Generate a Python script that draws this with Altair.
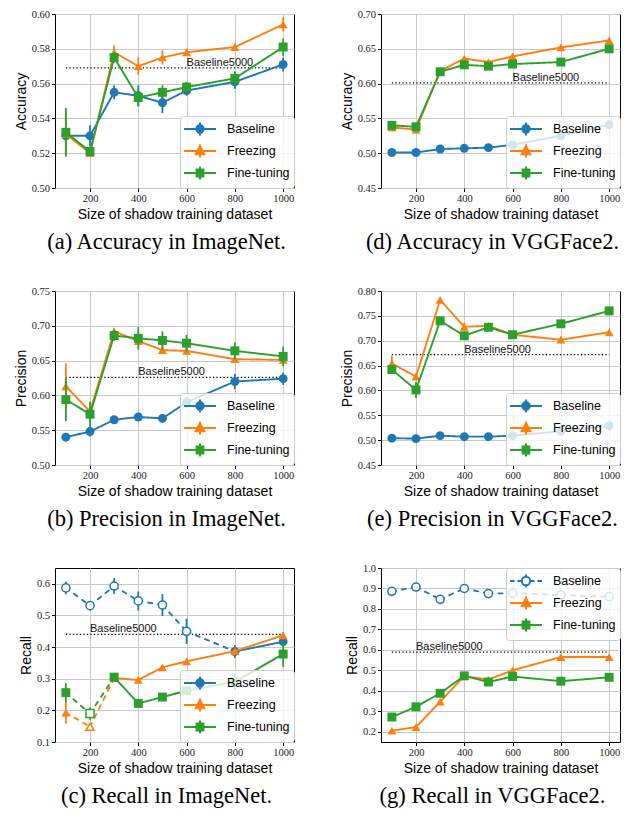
import altair as alt
import pandas as pd

SIZES = [100, 200, 300, 400, 500, 600, 800, 1000]
SERIES = ["Baseline", "Freezing", "Fine-tuning"]

# (a) Accuracy in ImageNet
A_BASE = [0.530, 0.530, 0.555, 0.553, 0.549, 0.556, 0.561, 0.571]
A_BASE_ERR = [0.004, 0.006, 0.004, 0.006, 0.006, 0.003, 0.004, 0.004]
A_FRZ = [0.531, 0.520, 0.578, 0.570, 0.575, 0.578, 0.581, 0.594]
A_FRZ_ERR = [0.012, 0.002, 0.004, 0.005, 0.004, 0.002, 0.002, 0.004]
A_FT = [0.532, 0.521, 0.575, 0.552, 0.555, 0.558, 0.563, 0.581]
A_FT_ERR = [0.014, 0.002, 0.003, 0.005, 0.004, 0.003, 0.004, 0.005]
A_REF = 0.569

# (d) Accuracy in VGGFace2
D_BASE = [0.501, 0.501, 0.506, 0.507, 0.508, 0.512, 0.525, 0.541]
D_BASE_ERR = [0.002, 0.002, 0.002, 0.002, 0.002, 0.002, 0.002, 0.002]
D_FRZ = [0.537, 0.534, 0.618, 0.636, 0.631, 0.639, 0.652, 0.662]
D_FRZ_ERR = [0.003, 0.003, 0.003, 0.003, 0.003, 0.003, 0.002, 0.003]
D_FT = [0.540, 0.538, 0.617, 0.627, 0.625, 0.628, 0.631, 0.650]
D_FT_ERR = [0.003, 0.003, 0.003, 0.003, 0.003, 0.003, 0.002, 0.003]
D_REF = 0.601

# (b) Precision in ImageNet
B_BASE = [0.540, 0.548, 0.565, 0.569, 0.567, 0.590, 0.620, 0.624]
B_BASE_ERR = [0.004, 0.007, 0.003, 0.003, 0.006, 0.008, 0.011, 0.009]
B_FRZ = [0.613, 0.577, 0.692, 0.678, 0.665, 0.664, 0.652, 0.651]
B_FRZ_ERR = [0.033, 0.005, 0.005, 0.005, 0.005, 0.005, 0.004, 0.004]
B_FT = [0.594, 0.573, 0.686, 0.682, 0.679, 0.675, 0.664, 0.656]
B_FT_ERR = [0.031, 0.018, 0.008, 0.016, 0.013, 0.012, 0.012, 0.014]
B_REF = 0.626

# (e) Precision in VGGFace2
E_BASE = [0.504, 0.503, 0.509, 0.507, 0.507, 0.509, 0.518, 0.529]
E_BASE_ERR = [0.002, 0.002, 0.002, 0.002, 0.002, 0.002, 0.002, 0.002]
E_FRZ = [0.654, 0.628, 0.782, 0.728, 0.730, 0.712, 0.702, 0.717]
E_FRZ_ERR = [0.016, 0.006, 0.005, 0.008, 0.004, 0.004, 0.004, 0.004]
E_FT = [0.642, 0.601, 0.740, 0.710, 0.727, 0.712, 0.734, 0.760]
E_FT_ERR = [0.008, 0.016, 0.005, 0.006, 0.004, 0.004, 0.004, 0.004]
E_REF = 0.672

# (c) Recall in ImageNet
C_BASE = [0.587, 0.531, 0.593, 0.546, 0.533, 0.450, 0.386, 0.417]
C_BASE_ERR = [0.020, 0.015, 0.025, 0.030, 0.035, 0.040, 0.020, 0.015]
C_BASE_OPEN = [True, True, True, True, True, True, False, False]
C_FRZ = [0.193, 0.148, 0.302, 0.296, 0.336, 0.355, 0.387, 0.437]
C_FRZ_ERR = [0.035, 0.010, 0.008, 0.006, 0.005, 0.005, 0.006, 0.010]
C_FRZ_OPEN = [False, True, False, False, False, False, False, False]
C_FT = [0.256, 0.190, 0.305, 0.222, 0.242, 0.262, 0.290, 0.378]
C_FT_ERR = [0.030, 0.020, 0.010, 0.010, 0.010, 0.010, 0.025, 0.040]
C_FT_OPEN = [False, True, False, False, False, False, False, False]
C_REF = 0.44

# (g) Recall in VGGFace2
F_BASE = [0.886, 0.907, 0.847, 0.900, 0.875, 0.877, 0.868, 0.860]
F_BASE_ERR = [0.005, 0.005, 0.005, 0.005, 0.005, 0.005, 0.005, 0.005]
F_BASE_OPEN = [True, True, True, True, True, True, True, True]
F_FRZ = [0.205, 0.223, 0.347, 0.472, 0.455, 0.500, 0.565, 0.565]
F_FRZ_ERR = [0.005, 0.005, 0.008, 0.010, 0.008, 0.008, 0.006, 0.006]
F_FT = [0.272, 0.322, 0.388, 0.473, 0.443, 0.470, 0.447, 0.466]
F_FT_ERR = [0.005, 0.005, 0.008, 0.010, 0.008, 0.008, 0.006, 0.006]
F_REF = 0.589

NO_OPEN = [False] * 8

PANELS = [
    dict(caption="(a) Accuracy in ImageNet.", ytitle="Accuracy", ydom=[0.50, 0.60],
         yticks=[0.50, 0.52, 0.54, 0.56, 0.58, 0.60], fmt=".2f",
         vals=[A_BASE, A_FRZ, A_FT], errs=[A_BASE_ERR, A_FRZ_ERR, A_FT_ERR],
         opens=[NO_OPEN, NO_OPEN, NO_OPEN], ref=A_REF, refx=600, legend="bottom-right"),
    dict(caption="(d) Accuracy in VGGFace2.", ytitle="Accuracy", ydom=[0.45, 0.70],
         yticks=[0.45, 0.50, 0.55, 0.60, 0.65, 0.70], fmt=".2f",
         vals=[D_BASE, D_FRZ, D_FT], errs=[D_BASE_ERR, D_FRZ_ERR, D_FT_ERR],
         opens=[NO_OPEN, NO_OPEN, NO_OPEN], ref=D_REF, refx=600, legend="bottom-right"),
    dict(caption="(b) Precision in ImageNet.", ytitle="Precision", ydom=[0.50, 0.75],
         yticks=[0.50, 0.55, 0.60, 0.65, 0.70, 0.75], fmt=".2f",
         vals=[B_BASE, B_FRZ, B_FT], errs=[B_BASE_ERR, B_FRZ_ERR, B_FT_ERR],
         opens=[NO_OPEN, NO_OPEN, NO_OPEN], ref=B_REF, refx=400, legend="bottom-right"),
    dict(caption="(e) Precision in VGGFace2.", ytitle="Precision", ydom=[0.45, 0.80],
         yticks=[0.45, 0.50, 0.55, 0.60, 0.65, 0.70, 0.75, 0.80], fmt=".2f",
         vals=[E_BASE, E_FRZ, E_FT], errs=[E_BASE_ERR, E_FRZ_ERR, E_FT_ERR],
         opens=[NO_OPEN, NO_OPEN, NO_OPEN], ref=E_REF, refx=400, legend="bottom-right"),
    dict(caption="(c) Recall in ImageNet.", ytitle="Recall", ydom=[0.10, 0.65],
         yticks=[0.1, 0.2, 0.3, 0.4, 0.5, 0.6], fmt=".1f",
         vals=[C_BASE, C_FRZ, C_FT], errs=[C_BASE_ERR, C_FRZ_ERR, C_FT_ERR],
         opens=[C_BASE_OPEN, C_FRZ_OPEN, C_FT_OPEN], ref=C_REF, refx=200, legend="bottom-right"),
    dict(caption="(g) Recall in VGGFace2.", ytitle="Recall", ydom=[0.15, 1.0],
         yticks=[0.2, 0.3, 0.4, 0.5, 0.6, 0.7, 0.8, 0.9, 1.0], fmt=".1f",
         vals=[F_BASE, F_FRZ, F_FT], errs=[F_BASE_ERR, F_FRZ_ERR, F_FT_ERR],
         opens=[F_BASE_OPEN, NO_OPEN, NO_OPEN], ref=F_REF, refx=200, legend="top-right"),
]

COLORS = ["#1f77b4", "#ff7f0e", "#2ca02c"]
SHAPES = ["circle", "triangle-up", "square"]
W, H = 239, 174
SANS = "Liberation Sans"
SERIF = "Liberation Serif"

# legend symbol geometry (pixels, relative to the symbol centre)
LEG_SIZE = 256
UNIT = (LEG_SIZE ** 0.5) / 2.0


def _u(v):
    return f"{v / UNIT:.3f}"


def seg(x1, y1, x2, y2):
    return f"M{_u(x1)},{_u(y1)}L{_u(x2)},{_u(y2)}"


def legend_path(kind, dashed):
    cx = 7.0
    parts = []
    if dashed:
        r = 4.2
        for a, b in [(-9.0, -4.5), (-1.5, cx - r - 0.3), (cx + r + 0.3, 15.5), (18.5, 23.0)]:
            parts.append(seg(a, 0, b, 0))
        parts.append(seg(cx, -6.5, cx, -r - 0.3))
        parts.append(seg(cx, r + 0.3, cx, 6.5))
    else:
        r = 3.7
        parts.append(seg(-9.0, 0, 23.0, 0))
        parts.append(seg(cx, -6.5, cx, 6.5))
    if kind == "circle":
        parts.append(f"M{_u(cx - r)},0A{_u(r)},{_u(r)} 0 1,0 {_u(cx + r)},0"
                     f"A{_u(r)},{_u(r)} 0 1,0 {_u(cx - r)},0Z")
    elif kind == "triangle-up":
        parts.append(f"M{_u(cx)},{_u(-4.8)}L{_u(cx + 4.3)},{_u(3.3)}L{_u(cx - 4.3)},{_u(3.3)}Z")
    else:
        s = 3.4
        parts.append(f"M{_u(cx - s)},{_u(-s)}L{_u(cx + s)},{_u(-s)}L{_u(cx + s)},{_u(s)}L{_u(cx - s)},{_u(s)}Z")
    return "".join(parts)


def make_panel(p):
    rows, segs = [], []
    for si, name in enumerate(SERIES):
        v, e, o = p["vals"][si], p["errs"][si], p["opens"][si]
        for i, x in enumerate(SIZES):
            rows.append(dict(series=name, x=x, y=v[i], lo=v[i] - e[i], hi=v[i] + e[i],
                             open=bool(o[i])))
        for i in range(len(SIZES) - 1):
            style = "dashed" if (o[i] or o[i + 1]) else "solid"
            sid = f"{name}-{i}"
            for j in (i, i + 1):
                segs.append(dict(series=name, seg=sid, x=SIZES[j], y=v[j], style=style))
    pts = pd.DataFrame(rows)
    lines = pd.DataFrame(segs)
    refdf = pd.DataFrame([dict(x=SIZES[0], x2=SIZES[-1], y=p["ref"], tx=p["refx"],
                               label="Baseline5000")])

    xscale = alt.Scale(domain=[55, 1045], nice=False, zero=False)
    yscale = alt.Scale(domain=p["ydom"], nice=False, zero=False)
    xaxis = alt.Axis(title="Size of shadow training dataset", values=[200, 400, 600, 800, 1000],
                     format="d")
    yaxis = alt.Axis(title=p["ytitle"], values=p["yticks"], format=p["fmt"])

    def X(f="x"):
        return alt.X(f"{f}:Q", scale=xscale, axis=xaxis)

    def Y(f="y"):
        return alt.Y(f"{f}:Q", scale=yscale, axis=yaxis)

    layers = []
    layers.append(alt.Chart(refdf).mark_rule(color="black", strokeWidth=1.2, strokeDash=[1.3, 2.2])
                  .encode(x=X(), x2="x2:Q", y=Y()))
    layers.append(alt.Chart(refdf).mark_text(align="left", baseline="alphabetic", dy=-2,
                                             font=SANS, fontSize=11, color="#111")
                  .encode(x=X("tx"), y=Y(), text="label:N"))
    dash = alt.StrokeDash("style:N", scale=alt.Scale(domain=["solid", "dashed"],
                                                       range=[[1, 0], [4.2, 5.8]]), legend=None)
    for si, name in enumerate(SERIES):
        c = COLORS[si]
        ld = lines[lines.series == name]
        pdd = pts[pts.series == name]
        layers.append(alt.Chart(ld).mark_line(color=c, strokeWidth=1.9, strokeCap="round",
                                              strokeJoin="round")
                      .encode(x=X(), y=Y(), detail="seg:N", strokeDash=dash))
        layers.append(alt.Chart(pdd).mark_rule(color=c, strokeWidth=1.8)
                      .encode(x=X(), y=Y("lo"), y2="hi:Q"))
        filled = pdd[~pdd.open]
        opened = pdd[pdd.open]
        if len(filled):
            layers.append(alt.Chart(filled).mark_point(shape=SHAPES[si], filled=True, color=c,
                                                       size=80, opacity=1)
                          .encode(x=X(), y=Y()))
        if len(opened):
            layers.append(alt.Chart(opened).mark_point(shape=SHAPES[si], filled=False, fill="white",
                                                       stroke=c, strokeWidth=1.5, size=66, opacity=1)
                          .encode(x=X(), y=Y()))

    dashed_leg = [bool(all(p["opens"][si])) for si in range(3)]
    fills = ["white" if dashed_leg[si] else COLORS[si] for si in range(3)]
    paths = [legend_path(SHAPES[si], dashed_leg[si]) for si in range(3)]
    legend = alt.Legend(title=None, orient=p["legend"], offset=0, padding=4,
                        fillColor="rgba(255,255,255,0.8)", strokeColor="#cccccc",
                        cornerRadius=3, symbolSize=LEG_SIZE, symbolStrokeWidth=2,
                        symbolOpacity=1,
                        labelFont=SANS, labelFontSize=12.5, labelColor="black",
                        labelOffset=25, rowPadding=0)
    layers.append(alt.Chart(pts).mark_point(opacity=1).transform_filter("false").encode(
        x=X(), y=Y(),
        fill=alt.Fill("series:N", scale=alt.Scale(domain=SERIES, range=fills), legend=legend),
        stroke=alt.Stroke("series:N", scale=alt.Scale(domain=SERIES, range=COLORS), legend=legend),
        shape=alt.Shape("series:N", scale=alt.Scale(domain=SERIES, range=paths), legend=legend),
    ))
    title = alt.TitleParams(text=p["caption"], orient="bottom", anchor="middle", frame="group",
                            font=SERIF, fontSize=22.5, fontWeight="normal", color="black",
                            offset=10, dx=-8)
    return alt.layer(*layers).properties(width=W, height=H, title=title)


charts = [make_panel(p) for p in PANELS]

chart = alt.concat(*charts, columns=2, spacing={"row": 103, "column": 87}, bounds="flush",
                   padding={"left": 5, "top": 0, "right": 0, "bottom": 0}).resolve_scale(
    fill="independent", stroke="independent", shape="independent", strokeDash="independent"
).resolve_legend(
    fill="independent", stroke="independent", shape="independent"
).configure_view(
    stroke="black", strokeWidth=1
).configure_axis(
    domain=False, grid=True, gridColor="#c8c8c8", gridWidth=1,
    tickColor="black", tickSize=3.5, tickWidth=1,
    labelFont=SERIF, labelFontSize=10.5, labelColor="#222", labelPadding=2,
    titleFont=SANS, titleFontSize=14, titleFontWeight="normal", titleColor="black",
    titlePadding=3,
)

chart.save("out.html", embed_options={"renderer": "svg", "actions": False})
